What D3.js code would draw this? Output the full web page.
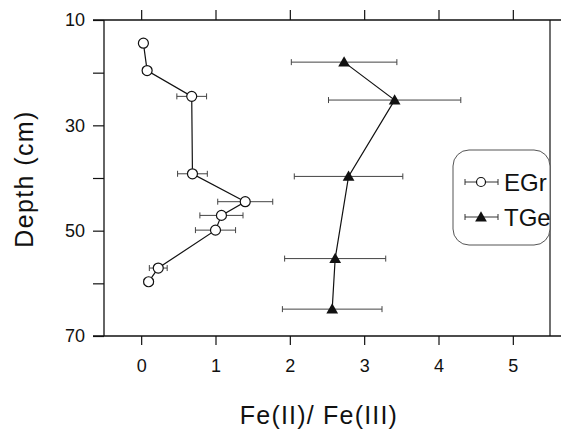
<!DOCTYPE html>
<html>
<head>
<meta charset="utf-8">
<script src="https://cdn.jsdelivr.net/npm/d3@7"></script>
<style>
  body { margin: 0; background: #fff; }
  svg { font-family: "Liberation Sans", Arial, sans-serif; }
</style>
</head>
<body>
<div id="chart"></div>
<script>
// EGr: open circles
const egrDepth = [14.4, 19.6, 24.5, 39.2, 44.5, 47.1, 49.9, 57.1, 59.7];
const egrRatio = [0.03, 0.08, 0.68, 0.69, 1.40, 1.08, 1.00, 0.23, 0.10];
const egrErr   = [0.05, 0.06, 0.20, 0.20, 0.37, 0.29, 0.27, 0.12, 0.06];

// TGe: filled triangles
const tgeDepth = [18.0, 25.2, 39.7, 55.3, 64.9];
const tgeRatio = [2.73, 3.41, 2.79, 2.61, 2.57];
const tgeErr   = [0.71, 0.89, 0.73, 0.68, 0.67];

const xTicks = [0, 1, 2, 3, 4, 5];
const yTicks = [10, 20, 30, 40, 50, 60, 70];
const yLabels = [10, 30, 50, 70];

const width = 568, height = 430;
const plotL = 104, plotR = 550, plotT = 20, plotB = 336;

const svg = d3.select('#chart').append('svg')
    .attr('width', width)
    .attr('height', height);

const x = d3.scaleLinear().domain([-0.5, 5.5]).range([plotL, plotR]);
const y = d3.scaleLinear().domain([10, 70]).range([plotT, plotB]);

const ink = '#111';

// frame lines (horizontal ones run a little past the box)
svg.append('line').attr('x1', 93).attr('x2', 561).attr('y1', plotT).attr('y2', plotT)
    .attr('stroke', ink).attr('stroke-width', 1.3);
svg.append('line').attr('x1', 93).attr('x2', 561).attr('y1', plotB).attr('y2', plotB)
    .attr('stroke', ink).attr('stroke-width', 1.5);
svg.append('line').attr('x1', plotL).attr('x2', plotL).attr('y1', plotT).attr('y2', plotB)
    .attr('stroke', ink).attr('stroke-width', 1.3);
svg.append('line').attr('x1', plotR).attr('x2', plotR).attr('y1', plotT).attr('y2', plotB)
    .attr('stroke', ink).attr('stroke-width', 1.2);

// axes
const styleAxis = g => {
    g.select('.domain').remove();
    g.selectAll('.tick line').attr('stroke', ink).attr('stroke-width', 1.2);
    g.selectAll('.tick text').attr('fill', ink).attr('font-size', 18)
        .attr('font-family', '"Liberation Sans", Arial, sans-serif');
};

svg.append('g')
    .attr('transform', `translate(0,${plotB})`)
    .call(d3.axisBottom(x).tickValues(xTicks).tickSize(9).tickPadding(14).tickFormat(d3.format('d')))
    .call(styleAxis);

svg.append('g')
    .attr('transform', `translate(0,${plotT})`)
    .call(d3.axisTop(x).tickValues(xTicks).tickSize(10).tickFormat(''))
    .call(styleAxis);

svg.append('g')
    .attr('transform', `translate(${plotL},0)`)
    .call(d3.axisLeft(y).tickValues(yTicks).tickSize(11).tickPadding(8)
        .tickFormat(d => yLabels.includes(d) ? d : ''))
    .call(styleAxis);

// axis titles
svg.append('text')
    .attr('x', 319).attr('y', 424)
    .attr('text-anchor', 'middle')
    .attr('font-size', 25).attr('letter-spacing', 1.2).attr('fill', ink)
    .text('Fe(II)/ Fe(III)');

svg.append('text')
    .attr('transform', `translate(33,${(plotT + plotB) / 2 + 1}) rotate(-90)`)
    .attr('text-anchor', 'middle')
    .attr('font-size', 25).attr('letter-spacing', 1.4).attr('fill', ink)
    .text('Depth (cm)');

// series
const egr = egrDepth.map((d, i) => ({ depth: d, v: egrRatio[i], e: egrErr[i] }));
const tge = tgeDepth.map((d, i) => ({ depth: d, v: tgeRatio[i], e: tgeErr[i] }));

const line = d3.line().x(d => x(d.v)).y(d => y(d.depth));

function drawErrors(data) {
    const g = svg.append('g').attr('stroke', '#444').attr('stroke-width', 1);
    g.selectAll('.eb').data(data).enter().append('line')
        .attr('x1', d => x(d.v - d.e)).attr('x2', d => x(d.v + d.e))
        .attr('y1', d => y(d.depth)).attr('y2', d => y(d.depth));
    g.selectAll('.capl').data(data).enter().append('line')
        .attr('x1', d => x(d.v - d.e)).attr('x2', d => x(d.v - d.e))
        .attr('y1', d => y(d.depth) - 3).attr('y2', d => y(d.depth) + 3);
    g.selectAll('.capr').data(data).enter().append('line')
        .attr('x1', d => x(d.v + d.e)).attr('x2', d => x(d.v + d.e))
        .attr('y1', d => y(d.depth) - 3).attr('y2', d => y(d.depth) + 3);
}

drawErrors(egr);
drawErrors(tge);

svg.append('path').datum(egr).attr('d', line)
    .attr('fill', 'none').attr('stroke', ink).attr('stroke-width', 1.2);
svg.append('path').datum(tge).attr('d', line)
    .attr('fill', 'none').attr('stroke', ink).attr('stroke-width', 1.2);

const tri = d3.symbol().type(d3.symbolTriangle).size(60);

svg.selectAll('.egr').data(egr).enter().append('circle')
    .attr('cx', d => x(d.v)).attr('cy', d => y(d.depth)).attr('r', 5)
    .attr('fill', '#fff').attr('stroke', ink).attr('stroke-width', 1.2);

svg.selectAll('.tge').data(tge).enter().append('path')
    .attr('d', tri)
    .attr('transform', d => `translate(${x(d.v)},${y(d.depth) + 1})`)
    .attr('fill', ink);

// legend
const lg = svg.append('g');
lg.append('rect')
    .attr('x', 453).attr('y', 150).attr('width', 97).attr('height', 95).attr('rx', 16)
    .attr('fill', '#fff').attr('stroke', '#555').attr('stroke-width', 1);

const legendItems = [
    { name: 'EGr', cy: 182, shape: 'circle' },
    { name: 'TGe', cy: 217, shape: 'tri' }
];
legendItems.forEach(it => {
    const g = lg.append('g').attr('stroke', '#333').attr('stroke-width', 1);
    g.append('line').attr('x1', 465).attr('x2', 498).attr('y1', it.cy).attr('y2', it.cy);
    g.append('line').attr('x1', 465).attr('x2', 465).attr('y1', it.cy - 3).attr('y2', it.cy + 3);
    g.append('line').attr('x1', 498).attr('x2', 498).attr('y1', it.cy - 3).attr('y2', it.cy + 3);
    if (it.shape === 'circle') {
        lg.append('circle').attr('cx', 481).attr('cy', it.cy).attr('r', 4.5)
            .attr('fill', '#fff').attr('stroke', ink).attr('stroke-width', 1.2);
    } else {
        lg.append('path').attr('d', tri).attr('transform', `translate(481,${it.cy + 1})`).attr('fill', ink);
    }
    lg.append('text').attr('x', 504).attr('y', it.cy + 8.5)
        .attr('font-size', 24).attr('fill', ink).text(it.name);
});
</script>
</body>
</html>
